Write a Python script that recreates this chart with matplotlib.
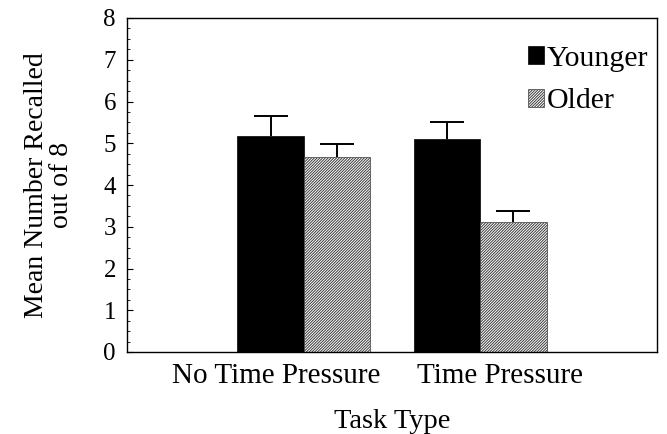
import matplotlib
matplotlib.use('Agg')
import numpy as np
import matplotlib.pyplot as plt
from matplotlib.ticker import MultipleLocator

plt.rcParams['font.family'] = ['Liberation Serif', 'DejaVu Serif']
plt.rcParams['hatch.linewidth'] = 0.7

# values
task_types = ['No Time Pressure', 'Time Pressure']
age_groups = ['Younger', 'Older']
younger_means = [5.17, 5.10]
younger_err = [0.48, 0.41]
older_means = [4.67, 3.11]
older_err = [0.31, 0.27]

fig = plt.figure(figsize=(6.67, 4.34), dpi=100)
ax = fig.add_axes([127 / 667, 82 / 434, 530 / 667, 334 / 434])

x = np.array([1, 2])
width = 0.375
cap_half = 0.096

ax.bar(x - width / 2, younger_means, width, color='black', edgecolor='black',
       linewidth=0.5, label=age_groups[0])
ax.bar(x + width / 2, older_means, width, color='white', edgecolor='#3a3a3a',
       linewidth=0.5, hatch='////////////', label=age_groups[1])

# upper error bars only
for xs, means, errs in [(x - width / 2, younger_means, younger_err),
                        (x + width / 2, older_means, older_err)]:
    tops = np.array(means) + np.array(errs)
    ax.vlines(xs, means, tops, color='black', linewidth=1.4)
    ax.hlines(tops, xs - cap_half, xs + cap_half, color='black', linewidth=1.4)

ax.set_xlim(0, 3)
ax.set_ylim(0, 8)
ax.yaxis.set_major_locator(MultipleLocator(1))
ax.yaxis.set_minor_locator(MultipleLocator(0.25))
ax.tick_params(axis='y', which='major', direction='in', length=4, width=0.8,
               labelsize=18, pad=8)
ax.tick_params(axis='y', which='minor', direction='in', length=2, width=0.6)

# the category labels sit a little apart from the group centres
ax.set_xticks([0.846, 2.111])
ax.set_xticklabels(task_types)
ax.tick_params(axis='x', length=0, labelsize=21, pad=8)

for sp in ax.spines.values():
    sp.set_linewidth(1.0)

ax.set_xlabel('Task Type', fontsize=20.5, labelpad=14)
ax.set_ylabel('Mean Number Recalled\nout of 8', fontsize=20, linespacing=1.0,
              labelpad=21)

ax.legend(loc='upper right', bbox_to_anchor=(1.018, 0.97), frameon=False,
          fontsize=21.5, handlelength=0.55, handleheight=0.55, handletextpad=0.1,
          labelspacing=0.55, borderaxespad=0.2)

fig.savefig('out.png', dpi=100)
